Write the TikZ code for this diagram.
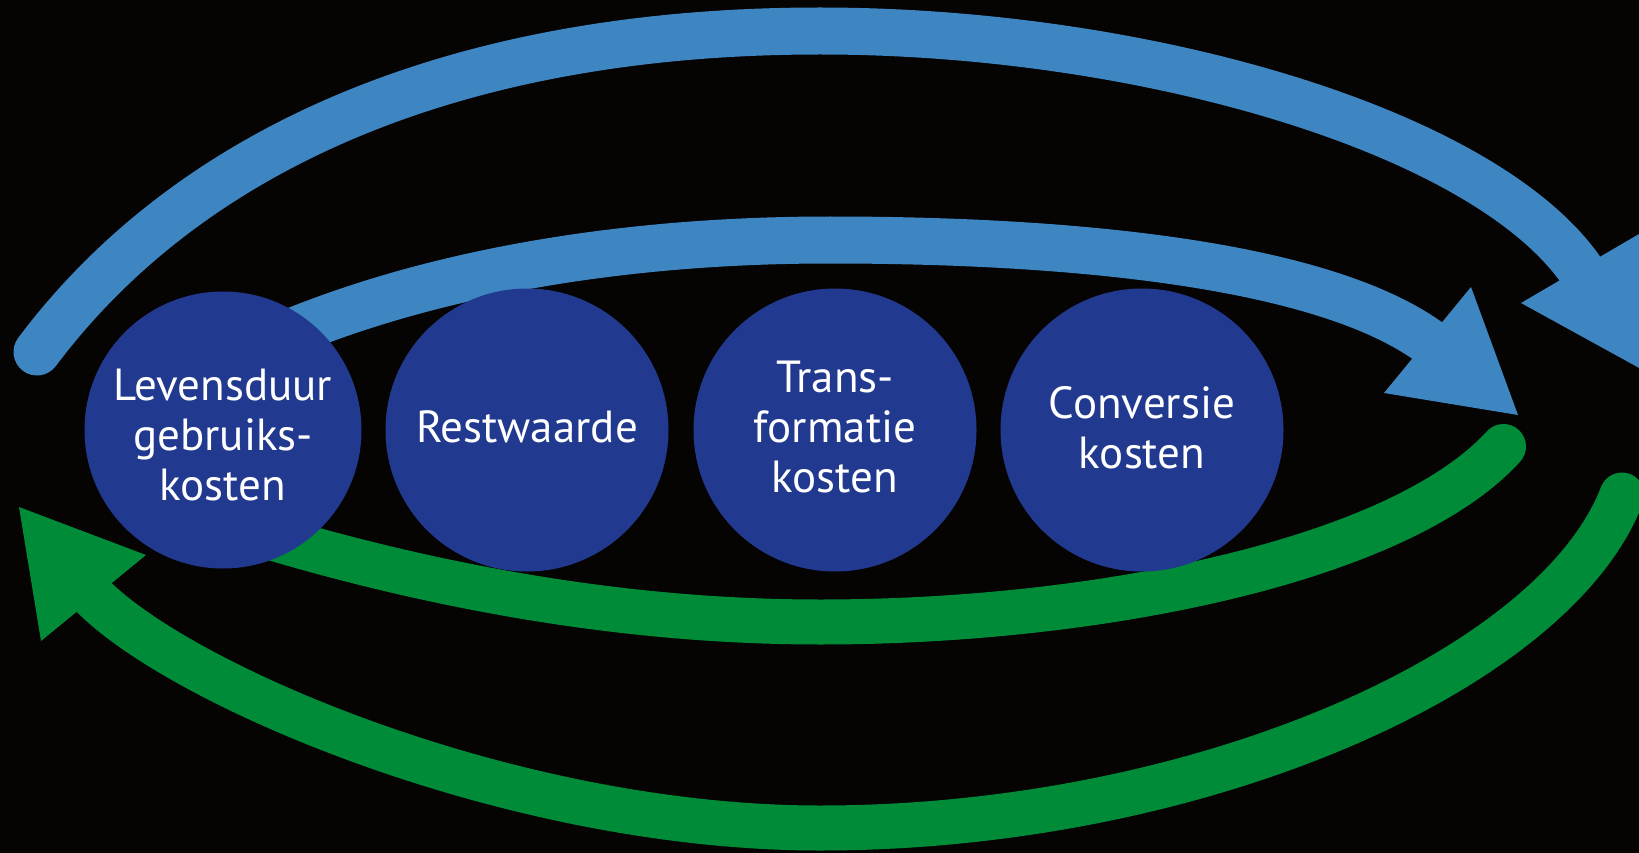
\documentclass[tikz,border=0pt]{standalone}
\usepackage{fontspec}
\setmainfont{PT Sans}
\definecolor{bg}{RGB}{6,3,3}
\definecolor{arcblue}{RGB}{62,134,194}
\definecolor{circblue}{RGB}{33,57,143}
\definecolor{arcgreen}{RGB}{0,139,57}
\begin{document}
\begin{tikzpicture}[x=1pt,y=-1pt,
  blueband/.style={line width=47pt, draw=arcblue},
  greenband/.style={line width=45pt, draw=arcgreen},
  costnode/.style={circle, fill=circblue, inner sep=0pt, minimum size=283pt,
    text=white, align=center, font=\fontsize{45}{50}\selectfont}]
\fill[bg] (0,0) rectangle (1639,853);
\useasboundingbox (0,0) rectangle (1639,853);
\clip (0,0) rectangle (1639,853);
% outer blue arrow
\coordinate (ob0) at (37,352);
\coordinate (obtop) at (820,31);
\coordinate (ob1) at (1588,281);
\draw[blueband, line cap=round] (ob0) .. controls (187,152) and (450,31) .. (obtop)
  .. controls (1150,31) and (1500,135) .. (ob1);
\fill[arcblue] (1521,303) -- (1639,234) -- (1641,369) -- cycle;
% inner blue arrow
\coordinate (ib0) at (250,350);
\coordinate (ibtop) at (830,240);
\coordinate (ib1) at (1439,349.5);
\draw[blueband] (ib0) .. controls (400,280) and (600,240) .. (ibtop)
  .. controls (1050,240) and (1330,260) .. (ib1);
\fill[arcblue] (1471,287) -- (1518,415) -- (1384,393) -- cycle;
% inner green arrow
\coordinate (ig0) at (230,525);
\coordinate (igbot) at (820,622);
\coordinate (ig1) at (1503.5,446.5);
\draw[greenband, line cap=round] (ig0) .. controls (420,585) and (620,622) .. (igbot)
  .. controls (1100,622) and (1400,560) .. (ig1);
% outer green arrow
\coordinate (og0) at (1622,495);
\coordinate (ogbot) at (820,828);
\coordinate (og1) at (84,586.4);
\draw[greenband, line cap=round] (og0) .. controls (1555,670) and (1200,828) .. (ogbot)
  .. controls (500,828) and (157,675) .. (og1);
\fill[arcgreen] (19,507) -- (146,555) -- (41,641) -- cycle;
% circles
\node[costnode, minimum size=277pt] (c1) at (223,430) {\rule{0pt}{41pt}Levensduur\\gebruiks-\\kosten};
\node[costnode] (c2) at (527,430) {Restwaarde\rule[-6pt]{0pt}{0pt}};
\node[costnode] (c3) at (835,430) {Trans-\\formatie\\kosten\rule[-6pt]{0pt}{0pt}};
\node[costnode] (c4) at (1142,430) {Conversie\\kosten\rule[-6pt]{0pt}{0pt}};
\end{tikzpicture}
\end{document}
